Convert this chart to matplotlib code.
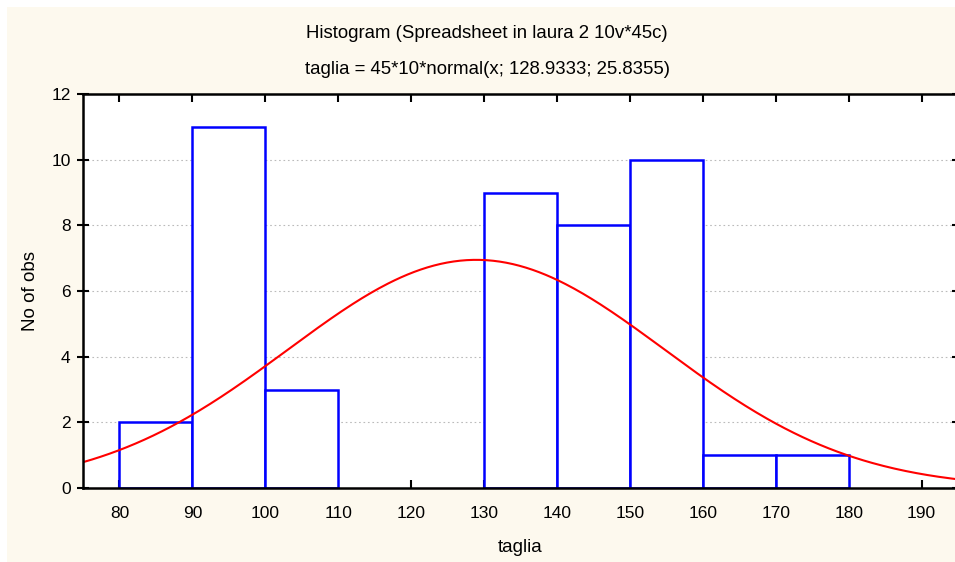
import numpy as np
import matplotlib.pyplot as plt
from matplotlib.patches import Rectangle

plt.rcParams['font.family'] = ['Liberation Sans', 'DejaVu Sans']

# --- DATA ---
bin_edges = [80, 90, 100, 110, 120, 130, 140, 150, 160, 170, 180]
counts = [2, 11, 3, 0, 0, 9, 8, 10, 1, 1]
n_obs = 45
bin_width = 10
mu = 128.9333
sigma = 25.8355
x_ticks = [80, 90, 100, 110, 120, 130, 140, 150, 160, 170, 180, 190]
y_ticks = [0, 2, 4, 6, 8, 10, 12]

title1 = "Histogram (Spreadsheet in laura 2 10v*45c)"
title2 = "taglia = 45*10*normal(x; 128.9333; 25.8355)"

W, H = 955, 562
fig = plt.figure(figsize=(W / 100, H / 100), dpi=100)
fig.patch.set_facecolor('white')
# cream panel (white strip left/top)
fig.patches.append(Rectangle((7 / W, 0), 1, 1 - 7 / H, transform=fig.transFigure,
                             facecolor='#FDF9EE', edgecolor='none', zorder=-5))

left, right, top, bottom = 83, 958, 94, 488
ax = fig.add_axes([left / W, 1 - bottom / H, (right - left) / W, (bottom - top) / H])
ax.set_facecolor('white')

# histogram bars
lefts = bin_edges[:-1]
for x0, c in zip(lefts, counts):
    if c > 0:
        ax.bar(x0, c, width=bin_width, align='edge', facecolor='white',
               edgecolor='#0000FF', linewidth=1.8, zorder=2)

# fitted normal curve
xs = np.linspace(75, 195, 400)
ys = n_obs * bin_width * np.exp(-0.5 * ((xs - mu) / sigma) ** 2) / (sigma * np.sqrt(2 * np.pi))
ax.plot(xs, ys, color='#FF0000', linewidth=1.5, zorder=3)

ax.set_xlim(75, 195)
ax.set_ylim(0, 12)
ax.set_xticks(x_ticks)
ax.set_yticks(y_ticks)
for y in y_ticks[1:-1]:
    ax.axhline(y, color='#BBBBBB', linestyle=(0, (1.5, 2.5)), linewidth=0.8, zorder=1)

for s in ax.spines.values():
    s.set_linewidth(1.8)
    s.set_color('black')
    s.set_zorder(4)

ax.tick_params(axis='x', direction='in', length=6, width=1.5, top=True, labelsize=12.5, pad=13)
ax.tick_params(axis='y', direction='inout', length=8, width=1.5, right=True, labelsize=12.5, pad=5)

ax.set_xlabel('taglia', fontsize=13.5)
ax.xaxis.set_label_coords((520 - left) / (right - left), -(547 - bottom) / (bottom - top))
ax.set_ylabel('No of obs', fontsize=13.5)
ax.yaxis.set_label_coords(-(left - 30) / (right - left), 0.5)
ax.xaxis.label.set_verticalalignment('center')
ax.yaxis.label.set_verticalalignment('center')

fig.text(487 / W, 1 - 33 / H, title1, ha='center', va='center', fontsize=13.4)
fig.text(487 / W, 1 - 69 / H, title2, ha='center', va='center', fontsize=13.4)

fig.savefig('out.png', dpi=100, facecolor=fig.get_facecolor())
